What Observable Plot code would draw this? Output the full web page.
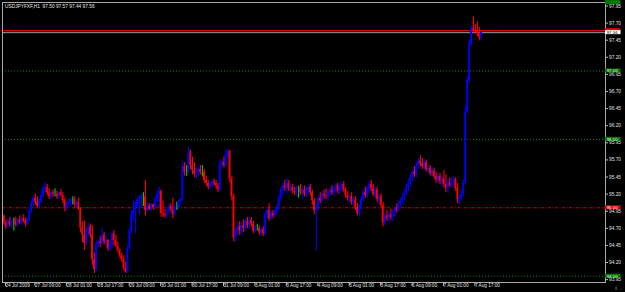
<!DOCTYPE html>
<html><head><meta charset="utf-8">
<script src="https://cdn.jsdelivr.net/npm/d3@7"></script>
<script src="https://cdn.jsdelivr.net/npm/@observablehq/plot@0.6"></script>
<style>html,body{margin:0;padding:0;background:#000;overflow:hidden}</style>
</head><body><div id="chart"></div>
<script>
const symbol = "USDJPYFXF,H1";
const open = [
94.88,94.78,94.72,94.80,94.76,94.82,94.82,94.75,94.82,94.78,
94.84,94.80,94.76,94.82,94.96,95.06,95.14,95.08,95.02,95.10,
95.18,95.28,95.30,95.22,95.16,95.22,95.20,95.20,95.16,95.22,
95.18,95.10,95.00,95.06,95.08,95.12,95.12,95.04,95.08,94.98,
94.70,94.60,94.48,94.66,94.72,94.60,94.24,94.10,94.46,94.50,
94.48,94.60,94.50,94.52,94.40,94.46,94.62,94.52,94.44,94.38,
94.30,94.24,94.12,94.06,94.40,94.66,94.90,94.96,95.02,95.12,
95.14,95.16,95.16,94.96,95.02,94.98,95.04,95.00,95.12,95.20,
95.24,94.92,94.90,94.88,94.94,95.02,94.98,94.90,95.00,95.00,
95.08,95.12,95.60,95.52,95.52,95.80,95.62,95.54,95.50,95.52,
95.56,95.52,95.52,95.40,95.36,95.30,95.34,95.38,95.36,95.32,
95.26,95.64,95.66,95.62,95.78,95.82,95.42,95.16,94.56,94.64,
94.72,94.66,94.74,94.70,94.80,94.74,94.82,94.76,94.66,94.70,
94.70,94.64,94.68,94.62,94.90,94.96,94.84,94.92,94.88,94.94,
95.00,95.14,95.26,95.32,95.28,95.36,95.28,95.30,95.24,95.22,
95.28,95.28,95.22,95.26,95.20,95.26,95.30,95.22,95.10,94.96,
95.00,95.14,95.10,95.20,95.18,95.16,95.22,95.26,95.22,95.28,
95.32,95.24,95.30,95.34,95.26,95.18,95.14,95.16,95.08,95.12,
95.00,94.92,95.00,95.12,95.22,95.18,95.28,95.34,95.28,95.20,
95.26,95.12,95.16,95.04,94.78,94.88,94.84,94.90,94.86,94.92,
94.98,94.96,95.06,95.10,95.16,95.22,95.30,95.38,95.44,95.52,
95.48,95.62,95.68,95.64,95.60,95.66,95.56,95.58,95.50,95.54,
95.46,95.40,95.46,95.38,95.42,95.34,95.28,95.36,95.32,95.38,
95.42,95.28,95.12,95.14,95.20,95.36,96.40,96.86,97.40,97.62,
97.60,97.58,97.54,97.50];
const high = [
94.90,94.82,94.83,94.86,94.84,94.85,94.86,94.84,94.88,94.86,
94.90,94.85,94.84,94.98,95.10,95.18,95.20,95.16,95.12,95.22,
95.32,95.37,95.34,95.28,95.25,95.26,95.28,95.24,95.24,95.27,
95.22,95.14,95.08,95.12,95.14,95.16,95.16,95.10,95.14,95.00,
94.80,94.81,94.70,94.78,94.76,94.74,94.34,94.52,94.54,94.58,
94.70,94.64,94.58,94.54,94.50,94.66,94.67,94.60,94.50,94.40,
94.34,94.30,94.20,94.45,94.70,94.96,95.10,95.08,95.16,95.18,
95.20,95.22,95.40,95.08,95.06,95.06,95.06,95.16,95.24,95.30,
95.26,95.10,94.98,94.98,95.06,95.06,95.14,95.04,95.08,95.12,
95.14,95.68,95.66,95.62,95.88,95.84,95.74,95.66,95.58,95.60,
95.62,95.62,95.56,95.46,95.40,95.38,95.42,95.42,95.40,95.36,
95.70,95.70,95.74,95.84,95.86,95.84,95.46,95.20,94.70,94.78,
94.80,94.78,94.82,94.84,94.86,94.86,94.86,94.80,94.74,94.76,
94.74,94.72,94.72,94.94,95.00,95.06,94.96,94.96,94.98,95.04,
95.18,95.30,95.36,95.40,95.42,95.40,95.34,95.34,95.30,95.32,
95.32,95.34,95.30,95.32,95.30,95.34,95.34,95.26,95.14,95.04,
95.18,95.22,95.24,95.26,95.28,95.26,95.30,95.32,95.30,95.36,
95.36,95.34,95.38,95.38,95.30,95.24,95.20,95.22,95.16,95.16,
95.06,95.04,95.16,95.26,95.30,95.32,95.38,95.40,95.34,95.30,
95.30,95.20,95.20,95.08,94.92,94.96,94.94,94.98,94.96,95.02,
95.06,95.10,95.14,95.20,95.26,95.34,95.42,95.48,95.56,95.60,
95.66,95.72,95.76,95.72,95.70,95.70,95.62,95.62,95.58,95.58,
95.52,95.50,95.50,95.46,95.54,95.48,95.42,95.44,95.42,95.46,
95.44,95.36,95.18,95.24,95.40,96.48,96.92,97.45,97.67,97.79,
97.68,97.72,97.64,97.57];
const low = [
94.75,94.68,94.70,94.72,94.70,94.66,94.72,94.72,94.76,94.74,
94.78,94.72,94.74,94.80,94.92,95.02,95.04,95.00,94.99,95.06,
95.14,95.22,95.18,95.12,95.12,95.15,95.16,95.12,95.13,95.16,
95.06,94.94,94.96,95.00,95.02,95.04,95.00,94.99,94.96,94.64,
94.49,94.38,94.45,94.58,94.56,94.16,94.04,94.08,94.40,94.42,
94.46,94.46,94.44,94.36,94.36,94.40,94.45,94.42,94.34,94.26,
94.20,94.08,94.04,94.04,94.38,94.62,94.80,94.62,94.98,94.90,
95.00,95.02,94.88,94.94,94.96,94.95,94.96,94.98,95.08,95.00,
94.86,94.86,94.85,94.84,94.92,94.94,94.84,94.88,94.96,94.98,
95.04,95.10,95.46,95.46,95.50,95.56,95.48,95.44,95.42,95.46,
95.48,95.45,95.36,95.32,95.26,95.26,95.30,95.32,95.28,95.22,
95.24,95.58,95.58,95.60,95.72,95.36,95.10,94.50,94.50,94.58,
94.60,94.60,94.64,94.66,94.70,94.68,94.72,94.62,94.64,94.66,
94.60,94.58,94.58,94.60,94.84,94.80,94.82,94.84,94.86,94.90,
94.96,95.10,95.18,95.24,95.20,95.24,95.22,95.20,95.18,95.16,
95.14,95.18,95.12,95.16,95.14,95.20,95.18,95.04,94.90,94.36,
94.96,95.06,95.06,95.12,95.12,95.10,95.16,95.18,95.16,95.22,
95.20,95.18,95.24,95.22,95.14,95.10,95.06,95.04,95.02,94.96,
94.88,94.86,94.96,95.08,95.14,95.14,95.22,95.24,95.16,95.14,
95.08,95.04,95.00,94.72,94.74,94.80,94.78,94.82,94.80,94.86,
94.92,94.94,95.00,95.04,95.10,95.18,95.24,95.30,95.38,95.44,
95.44,95.56,95.60,95.56,95.54,95.52,95.50,95.46,95.44,95.42,
95.36,95.36,95.34,95.30,95.30,95.22,95.22,95.30,95.28,95.32,
95.24,95.06,95.04,95.10,95.16,95.34,96.38,96.82,97.36,97.54,
97.56,97.50,97.44,97.44];
const close = [
94.78,94.72,94.80,94.76,94.82,94.82,94.75,94.82,94.78,94.84,
94.80,94.76,94.82,94.96,95.06,95.14,95.08,95.02,95.10,95.18,
95.28,95.30,95.22,95.16,95.22,95.20,95.20,95.16,95.22,95.18,
95.10,95.00,95.06,95.08,95.12,95.12,95.04,95.08,94.98,94.70,
94.60,94.48,94.66,94.72,94.60,94.24,94.10,94.46,94.50,94.48,
94.60,94.50,94.52,94.40,94.46,94.62,94.52,94.44,94.38,94.30,
94.24,94.12,94.06,94.40,94.66,94.90,94.96,95.02,95.12,95.14,
95.16,95.16,94.96,95.02,94.98,95.04,95.00,95.12,95.20,95.24,
94.92,94.90,94.88,94.94,95.02,94.98,94.90,95.00,95.00,95.08,
95.12,95.60,95.52,95.52,95.80,95.62,95.54,95.50,95.52,95.56,
95.52,95.52,95.40,95.36,95.30,95.34,95.38,95.36,95.32,95.26,
95.64,95.66,95.62,95.78,95.82,95.42,95.16,94.56,94.64,94.72,
94.66,94.74,94.70,94.80,94.74,94.82,94.76,94.66,94.70,94.70,
94.64,94.68,94.62,94.90,94.96,94.84,94.92,94.88,94.94,95.00,
95.14,95.26,95.32,95.28,95.36,95.28,95.30,95.24,95.22,95.28,
95.28,95.22,95.26,95.20,95.26,95.30,95.22,95.10,94.96,95.00,
95.14,95.10,95.20,95.18,95.16,95.22,95.26,95.22,95.28,95.32,
95.24,95.30,95.34,95.26,95.18,95.14,95.16,95.08,95.12,95.00,
94.92,95.00,95.12,95.22,95.18,95.28,95.34,95.28,95.20,95.26,
95.12,95.16,95.04,94.78,94.88,94.84,94.90,94.86,94.92,94.98,
94.96,95.06,95.10,95.16,95.22,95.30,95.38,95.44,95.52,95.48,
95.62,95.68,95.64,95.60,95.66,95.56,95.58,95.50,95.54,95.46,
95.40,95.46,95.38,95.42,95.34,95.28,95.36,95.32,95.38,95.42,
95.28,95.12,95.14,95.20,95.36,96.40,96.86,97.40,97.62,97.60,
97.58,97.54,97.50,97.56];

const xTickBars = [0,15,31,47,63,79,95,111,127,143,159,175,191,207,223,239];
const xTickLabels = ["24 Jul 2009","27 Jul 09:00","28 Jul 01:00","28 Jul 17:00","29 Jul 09:00",
  "30 Jul 01:00","30 Jul 17:00","31 Jul 09:00","3 Aug 01:00","3 Aug 17:00","4 Aug 09:00",
  "5 Aug 01:00","5 Aug 17:00","6 Aug 09:00","7 Aug 01:00","7 Aug 17:00"];
const yTicks = [93.95,94.20,94.45,94.70,94.95,95.20,95.45,95.70,95.95,96.20,96.45,96.70,96.95,97.20,97.45,97.70,97.95];
const greenLevels = [98.00, 97.00, 96.00, 94.00];
const redLevels = [95.00];
const alertLevel = 97.59;

const n = open.length;
const bars = d3.range(n).map(i => ({i, o: open[i], h: high[i], l: low[i], c: close[i]}));
const barColor = d => d.c > d.o ? "#0000ff" : d.c < d.o ? "#ff0000" : "#00d000";
const bid = close[n - 1];
const title = `${symbol}  ${open[n-1].toFixed(2)} ${high[n-1].toFixed(2)} ${low[n-1].toFixed(2)} ${close[n-1].toFixed(2)}`;

const X0 = -0.764, X1 = 306.26, LW = 7.9, LH = 0.029;
// label boxes on the price scale; "show" = whether its price text is visible in the reference
const levelBoxes = [
  ...greenLevels.map(v => ({v, fill: "#007a00", text: "#e8ffe8", show: v < 98})),
  ...redLevels.map(v => ({v, fill: "#e00000", text: "#ffffff", show: true})),
  {v: alertLevel, fill: "#e00000", text: "#ffffff", show: false},
  {v: bid, fill: "#ffffff", text: "#000000", show: true}
];
const font = "'Liberation Sans', Arial, sans-serif";

const chart = Plot.plot({
  width: 625, height: 292,
  marginLeft: 2, marginRight: 20, marginTop: 2, marginBottom: 10,
  style: {background: "#000", color: "#d8d8d8", fontFamily: font, fontSize: "5px", overflow: "visible"},
  x: {domain: [X0, X1]},
  y: {domain: [93.908, 98.001]},
  marks: [
    Plot.ruleY(greenLevels, {stroke: "#008a00", strokeDasharray: "1,2", strokeWidth: 1}),
    Plot.ruleY(redLevels, {stroke: "#d00000", strokeDasharray: "3,1.5,1,1.5", strokeWidth: 1}),
    Plot.ruleY([alertLevel], {stroke: "#e00000", strokeWidth: 1.4}),
    Plot.ruleY([bid], {stroke: "#9a9a9a", strokeWidth: 1}),
    Plot.ruleX(bars, {x: "i", y1: "l", y2: "h", stroke: barColor, strokeWidth: 1.1}),
    Plot.rect(bars, {x1: d => d.i - 0.42, x2: d => d.i + 0.42, y1: "o", y2: "c", fill: barColor}),
    Plot.frame({stroke: "#a8a8a8"}),
    Plot.axisY({ticks: yTicks, anchor: "right", tickFormat: d => d.toFixed(2), tickSize: 2, tickPadding: 1.5, fontSize: 4.8, fill: "#e0e0e0", stroke: "#bbbbbb"}),
    Plot.axisX({ticks: xTickBars, anchor: "bottom", tickFormat: d => xTickLabels[xTickBars.indexOf(d)], tickSize: 4, tickPadding: -2.5, textAnchor: "start", dx: 1.5, fontSize: 4.7, fill: "#e0e0e0", stroke: "#bbbbbb"}),
    Plot.rect(levelBoxes, {x1: X1, x2: X1 + LW, y1: d => d.v - LH, y2: d => d.v + LH, fill: d => d.fill}),
    Plot.text(levelBoxes.filter(d => d.show), {x: X1 + 0.6, y: "v", text: d => d.v.toFixed(2), fill: d => d.text, textAnchor: "start", fontSize: 4.4}),
    Plot.text([title], {frameAnchor: "top-left", dx: 2.5, dy: 2.5, fill: "#e8e8e8", fontSize: 4.8, lineAnchor: "top"})
  ]
});
document.getElementById("chart").appendChild(chart);
</script>
</body></html>
